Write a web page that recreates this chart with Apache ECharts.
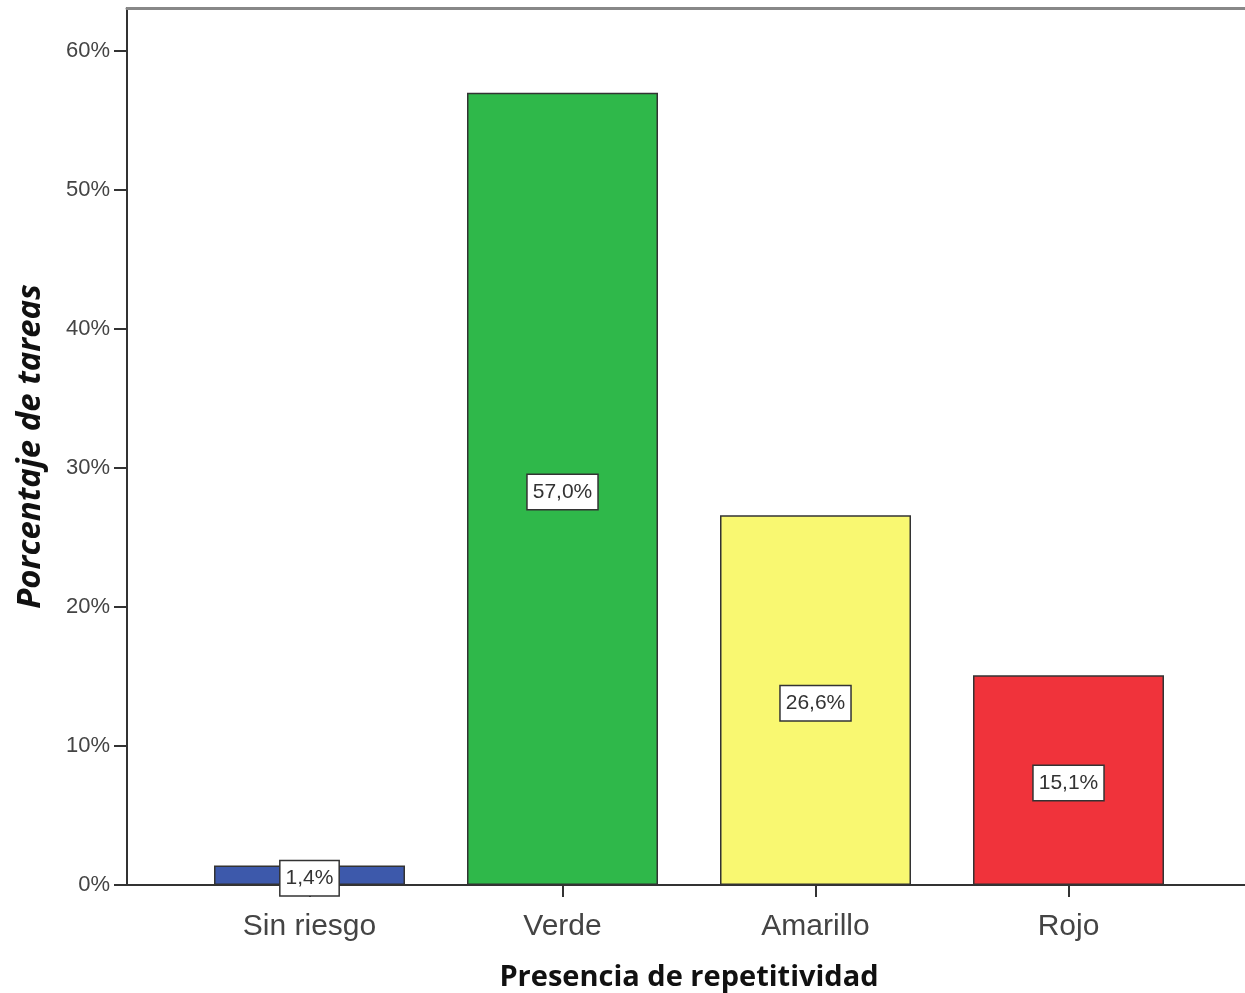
<!DOCTYPE html>
<html>
<head>
<meta charset="utf-8">
<script src="https://cdn.jsdelivr.net/npm/echarts@6/dist/echarts.min.js"></script>
<style>
html,body{margin:0;padding:0;background:#fff;}
#chart{width:1245px;height:993px;}
</style>
</head>
<body>
<div id="chart"></div>
<script>
const categories = ['Sin riesgo', 'Verde', 'Amarillo', 'Rojo'];
const values = [1.4, 57.0, 26.6, 15.1];
const barColors = ['#3d59ab', '#2fb84a', '#f9f871', '#f0333b'];
const yTicks = [0, 10, 20, 30, 40, 50, 60];
const xTitle = 'Presencia de repetitividad';
const yTitle = 'Porcentaje de tareas';

const chart = echarts.init(document.getElementById('chart'));
const yMax = 63.1;
chart.setOption({
  animation: false,
  backgroundColor: '#fff',
  grid: [
    {left: 183, right: 50, top: 8, bottom: 108, outerBoundsMode: 'none', containLabel: false},
    {left: 127, right: -10, top: 8, bottom: 108, outerBoundsMode: 'none', containLabel: false}
  ],
  xAxis: [
    {
      type: 'category', gridIndex: 0, data: categories,
      axisLine: {show: true, lineStyle: {color: '#333', width: 2}},
      axisTick: {show: true, alignWithLabel: true, length: 12, lineStyle: {color: '#333', width: 2}},
      axisLabel: {color: '#444', fontSize: 30, fontFamily: 'Liberation Sans', margin: 27},
      name: xTitle, nameLocation: 'middle', nameGap: 78,
      nameTextStyle: {fontSize: 29, fontWeight: 'bold', color: '#111', fontFamily: 'Open Sans'}
    },
    {
      type: 'value', gridIndex: 1, min: 0, max: 1, position: 'bottom',
      axisLine: {show: true, lineStyle: {color: '#333', width: 2}},
      axisTick: {show: false}, axisLabel: {show: false}, splitLine: {show: false}
    },
    {
      type: 'value', gridIndex: 1, min: 0, max: 1, position: 'top',
      axisLine: {show: true, lineStyle: {color: '#888', width: 3}},
      axisTick: {show: false}, axisLabel: {show: false}, splitLine: {show: false}
    }
  ],
  yAxis: [
    {
      type: 'value', gridIndex: 0, min: 0, max: yMax, show: false, splitLine: {show: false}
    },
    {
      type: 'value', gridIndex: 1, min: 0, max: yMax,
      axisLine: {show: true, lineStyle: {color: '#333', width: 2}},
      axisTick: {show: true, inside: false, length: 13, lineStyle: {color: '#333', width: 2}, customValues: yTicks},
      axisLabel: {color: '#444', fontSize: 22, fontFamily: 'Liberation Sans', margin: 17,
                  padding: [4, 0, 0, 0],
                  formatter: '{value}%', customValues: yTicks},
      splitLine: {show: false},
      name: yTitle, nameLocation: 'middle', nameGap: 80, nameRotate: 90,
      nameTextStyle: {fontSize: 33, fontWeight: 'bold', fontStyle: 'italic', color: '#111', fontFamily: 'Open Sans'}
    }
  ],
  series: [{
    type: 'bar', xAxisIndex: 0, yAxisIndex: 0,
    barWidth: 191,
    data: values.map((v, i) => ({value: v, itemStyle: {color: barColors[i]}})),
    itemStyle: {borderColor: '#333', borderWidth: 1.5},
    label: {
      show: true, position: 'inside', offset: [0, 3],
      formatter: p => p.value.toFixed(1).replace('.', ',') + '%',
      color: '#333', fontSize: 21, fontFamily: 'Liberation Sans',
      backgroundColor: '#fff', borderColor: '#333', borderWidth: 1.5,
      padding: [8, 5, 5, 5]
    },
    z: 3
  }]
});
</script>
</body>
</html>
